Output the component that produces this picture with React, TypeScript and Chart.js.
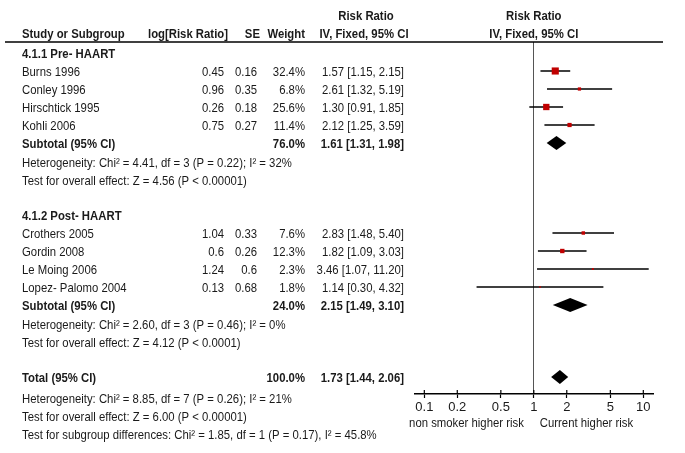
import React, { useEffect, useRef } from 'react';
import { Chart, registerables } from 'chart.js';

Chart.register(...registerables);

// ---------------- data ----------------
const groupTitles = ['4.1.1 Pre- HAART', '4.1.2 Post- HAART'];
const studyNames = [
  'Burns 1996', 'Conley 1996', 'Hirschtick 1995', 'Kohli 2006',
  'Crothers 2005', 'Gordin 2008', 'Le Moing 2006', 'Lopez- Palomo 2004',
];
const studyGroup = [0, 0, 0, 0, 1, 1, 1, 1];
const logRiskRatio = [0.45, 0.96, 0.26, 0.75, 1.04, 0.6, 1.24, 0.13];
const seValues = [0.16, 0.35, 0.18, 0.27, 0.33, 0.26, 0.6, 0.68];
const weights = [32.4, 6.8, 25.6, 11.4, 7.6, 12.3, 2.3, 1.8];
const riskRatio = [1.57, 2.61, 1.3, 2.12, 2.83, 1.82, 3.46, 1.14];
const ciLower = [1.15, 1.32, 0.91, 1.25, 1.48, 1.09, 1.07, 0.3];
const ciUpper = [2.15, 5.19, 1.85, 3.59, 5.4, 3.03, 11.2, 4.32];

const subtotalWeight = [76.0, 24.0];
const subtotalRR = [1.61, 2.15];
const subtotalLower = [1.31, 1.49];
const subtotalUpper = [1.98, 3.1];
const heterogeneityText = [
  'Heterogeneity: Chi\u00B2 = 4.41, df = 3 (P = 0.22); I\u00B2 = 32%',
  'Heterogeneity: Chi\u00B2 = 2.60, df = 3 (P = 0.46); I\u00B2 = 0%',
];
const overallEffectText = [
  'Test for overall effect: Z = 4.56 (P < 0.00001)',
  'Test for overall effect: Z = 4.12 (P < 0.0001)',
];

const totalWeight = 100.0;
const totalRR = 1.73;
const totalLower = 1.44;
const totalUpper = 2.06;
const totalNotes = [
  'Heterogeneity: Chi\u00B2 = 8.85, df = 7 (P = 0.26); I\u00B2 = 21%',
  'Test for overall effect: Z = 6.00 (P < 0.00001)',
  'Test for subgroup differences: Chi\u00B2 = 1.85, df = 1 (P = 0.17), I\u00B2 = 45.8%',
];

const tickValues = [0.1, 0.2, 0.5, 1, 2, 5, 10];
const axisLabels = ['non smoker higher risk', 'Current higher risk'];
const columnHeaders = ['Study or Subgroup', 'log[Risk Ratio]', 'SE', 'Weight', 'Risk Ratio', 'IV, Fixed, 95% CI'];

// ---------------- layout (row indices) ----------------
const studyRow: number[] = [];
const groupRow: number[] = [];
const subtotalRow: number[] = [];
const hetRow: number[] = [];
const testRow: number[] = [];
let rowCursor = 0;
groupTitles.forEach((_, g) => {
  groupRow[g] = rowCursor++;
  studyNames.forEach((_, i) => {
    if (studyGroup[i] === g) studyRow[i] = rowCursor++;
  });
  subtotalRow[g] = rowCursor++;
  hetRow[g] = rowCursor++;
  testRow[g] = rowCursor++;
  rowCursor++;
});
const totalRow = rowCursor;

// ---------------- style ----------------
const FAMILY = '"Liberation Sans", Arial, sans-serif';
const FS = 13.5;
const SQUEEZE = 0.84;
const TEXT = '#1a1a1a';
const COL_NAME = 22;
const COL_LOG = 224;
const COL_SE = 257;
const COL_W = 305;
const COL_CI = 404;

const fmt2 = (v: number) => v.toFixed(2);
const ciText = (m: number, l: number, u: number) => `${fmt2(m)} [${fmt2(l)}, ${fmt2(u)}]`;

const forestPlugin = {
  id: 'forestPlugin',
  afterDatasetsDraw(chart: any) {
    const { ctx, scales, chartArea } = chart;
    const xs = scales.x;
    const ys = scales.y;
    const diamond = (m: number, l: number, u: number, row: number) => {
      const yc = ys.getPixelForValue(row);
      const h = 7;
      ctx.save();
      ctx.fillStyle = '#000';
      ctx.beginPath();
      ctx.moveTo(xs.getPixelForValue(l), yc);
      ctx.lineTo(xs.getPixelForValue(m), yc - h);
      ctx.lineTo(xs.getPixelForValue(u), yc);
      ctx.lineTo(xs.getPixelForValue(m), yc + h);
      ctx.closePath();
      ctx.fill();
      ctx.restore();
    };
    subtotalRR.forEach((m, g) => diamond(m, subtotalLower[g], subtotalUpper[g], subtotalRow[g]));
    diamond(totalRR, totalLower, totalUpper, totalRow);

    // upper halves of axis ticks (ticks cross the axis line)
    ctx.save();
    ctx.strokeStyle = '#000';
    ctx.lineWidth = 1.2;
    tickValues.forEach((v) => {
      const px = xs.getPixelForValue(v);
      ctx.beginPath();
      ctx.moveTo(px, chartArea.bottom - 4);
      ctx.lineTo(px, chartArea.bottom);
      ctx.stroke();
    });
    ctx.restore();
  },
  afterDraw(chart: any) {
    const { ctx, scales, chartArea } = chart;
    const xs = scales.x;
    const ys = scales.y;
    const rowY = (r: number) => ys.getPixelForValue(r) + 1;
    const txt = (s: string, x: number, y: number, align: CanvasTextAlign, bold = false) => {
      ctx.font = `${bold ? 'bold ' : ''}${FS}px ${FAMILY}`;
      ctx.textAlign = align;
      ctx.textBaseline = 'middle';
      ctx.fillStyle = TEXT;
      const w = ctx.measureText(s).width;
      ctx.fillText(s, x, y, w * SQUEEZE);
    };
    ctx.save();
    // header line
    ctx.strokeStyle = '#000';
    ctx.lineWidth = 1.5;
    ctx.beginPath();
    ctx.moveTo(5, chartArea.top);
    ctx.lineTo(663, chartArea.top);
    ctx.stroke();

    const x1 = xs.getPixelForValue(1);
    const hy1 = ys.getPixelForValue(-1) - 1;
    const hy2 = ys.getPixelForValue(-2) - 1;
    txt(columnHeaders[0], COL_NAME, hy1, 'left', true);
    txt(columnHeaders[1], COL_LOG + 4, hy1, 'right', true);
    txt(columnHeaders[2], COL_SE + 3, hy1, 'right', true);
    txt(columnHeaders[3], COL_W, hy1, 'right', true);
    txt(columnHeaders[4], 366, hy2, 'center', true);
    txt(columnHeaders[5], 364, hy1, 'center', true);
    txt(columnHeaders[4], x1, hy2, 'center', true);
    txt(columnHeaders[5], x1, hy1, 'center', true);

    groupTitles.forEach((t, g) => {
      txt(t, COL_NAME, rowY(groupRow[g]), 'left', true);
      txt('Subtotal (95% CI)', COL_NAME, rowY(subtotalRow[g]), 'left', true);
      txt(`${subtotalWeight[g].toFixed(1)}%`, COL_W, rowY(subtotalRow[g]), 'right', true);
      txt(ciText(subtotalRR[g], subtotalLower[g], subtotalUpper[g]), COL_CI, rowY(subtotalRow[g]), 'right', true);
      txt(heterogeneityText[g], COL_NAME, rowY(hetRow[g]) + 1, 'left');
      txt(overallEffectText[g], COL_NAME, rowY(testRow[g]) + 1, 'left');
    });
    studyNames.forEach((n, i) => {
      const y = rowY(studyRow[i]);
      txt(n, COL_NAME, y, 'left');
      txt(String(logRiskRatio[i]), COL_LOG, y, 'right');
      txt(String(seValues[i]), COL_SE, y, 'right');
      txt(`${weights[i].toFixed(1)}%`, COL_W, y, 'right');
      txt(ciText(riskRatio[i], ciLower[i], ciUpper[i]), COL_CI, y, 'right');
    });
    txt('Total (95% CI)', COL_NAME, rowY(totalRow), 'left', true);
    txt(`${totalWeight.toFixed(1)}%`, COL_W, rowY(totalRow), 'right', true);
    txt(ciText(totalRR, totalLower, totalUpper), COL_CI, rowY(totalRow), 'right', true);
    totalNotes.forEach((t, k) => {
      txt(t, COL_NAME, rowY(totalRow + 1 + k) + 3, 'left');
    });

    const ly = chartArea.bottom + 29;
    txt(axisLabels[0], x1 - 10, ly, 'right');
    txt(axisLabels[1], x1 + 6, ly, 'left');
    ctx.restore();
  },
};

export default function App() {
  const canvasRef = useRef<HTMLCanvasElement | null>(null);

  useEffect(() => {
    document.body.style.margin = '0';
    const canvas = canvasRef.current;
    if (!canvas) return;

    const datasets: any[] = [
      {
        label: 'Studies',
        data: riskRatio.map((v, i) => ({ x: v, y: studyRow[i] })),
        pointStyle: 'rect',
        pointRadius: weights.map((w) => (1.25 * Math.sqrt(w)) / Math.SQRT2),
        backgroundColor: '#c00000',
        borderColor: '#c00000',
        borderWidth: 0,
        showLine: false,
        order: 0,
      },
      ...ciLower.map((lo, i) => ({
        label: `CI ${studyNames[i]}`,
        data: [
          { x: lo, y: studyRow[i] },
          { x: ciUpper[i], y: studyRow[i] },
        ],
        showLine: true,
        borderColor: '#000',
        borderWidth: 1.5,
        pointRadius: 0,
        order: 1,
      })),
    ];

    const chart = new Chart(canvas, {
      type: 'scatter',
      data: { datasets },
      options: {
        animation: false,
        responsive: true,
        maintainAspectRatio: false,
        events: [],
        layout: { padding: { left: 415, right: 32, top: 42, bottom: 0 } },
        plugins: { legend: { display: false }, tooltip: { enabled: false } },
        scales: {
          x: {
            type: 'logarithmic',
            position: 'bottom',
            min: 0.0822,
            max: 12.26,
            afterBuildTicks: (s: any) => {
              s.ticks = tickValues.map((v) => ({ value: v }));
            },
            afterFit: (s: any) => {
              s.height = 59;
            },
            ticks: {
              callback: (v: any) => String(v),
              font: { family: FAMILY, size: 13 },
              color: TEXT,
              padding: 2,
              maxRotation: 0,
              autoSkip: false,
            },
            grid: {
              color: (c: any) => (c.tick && c.tick.value === 1 ? '#555' : 'rgba(0,0,0,0)'),
              lineWidth: 1,
              drawTicks: true,
              tickLength: 4,
              tickColor: '#000',
              tickWidth: 1.2,
            },
            border: { display: true, color: '#000', width: 1.5 },
          },
          y: {
            type: 'linear',
            display: false,
            reverse: true,
            min: -0.611,
            max: 18.944,
          },
        },
      },
      plugins: [forestPlugin],
    } as any);

    return () => chart.destroy();
  }, []);

  return (
    <div style={{ position: 'relative', width: 685, height: 453 }}>
      <canvas ref={canvasRef} />
    </div>
  );
}
